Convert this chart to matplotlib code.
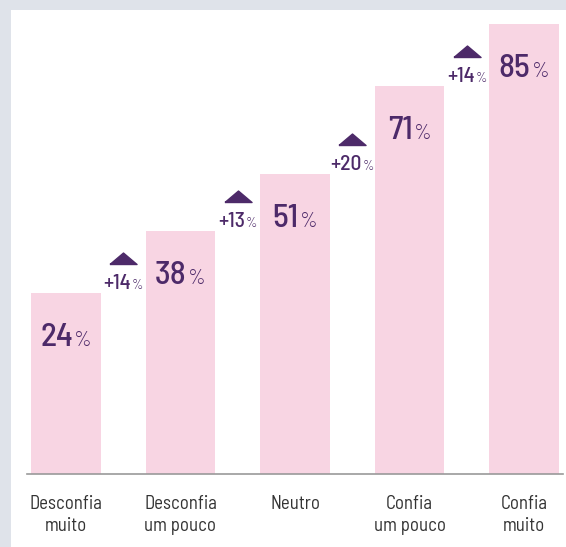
import numpy as np
import matplotlib.pyplot as plt
from matplotlib.patches import Rectangle
from matplotlib.transforms import ScaledTranslation

# survey answers: trust level vs share of respondents
categories = ["Desconfia\nmuito", "Desconfia\num pouco", "Neutro", "Confia\num pouco", "Confia\nmuito"]
values = [24, 38, 51, 71, 85]
deltas = [14, 13, 20, 14]

pink = "#f8d5e3"
purple = "#4d2a69"
font = ["Barlow Semi Condensed", "Roboto Condensed", "DejaVu Sans"]
plt.rcParams["font.family"] = font

base = -17.3
fig = plt.figure(figsize=(5.66, 5.47), dpi=100, facecolor="#dfe3ea")
W, H = 566, 547
fig.patches.append(Rectangle((11 / W, 0), 1, 1 - 10 / H, transform=fig.transFigure,
                             facecolor="white", edgecolor="none", zorder=0))

ax = fig.add_axes([27 / W, (H - 474) / H, (563 - 27) / W, (474 - 10) / H])
ax.set_zorder(2)
ax.set_facecolor("none")
x = np.arange(len(values))
ax.bar(x, [v - base for v in values], bottom=base, width=0.61, color=pink, zorder=1)
ax.set_xlim(-0.34, 4.34)
ax.set_ylim(base, 88.3)

for s in ["top", "right", "left"]:
    ax.spines[s].set_visible(False)
ax.spines["bottom"].set_color("#9a9a9a")
ax.spines["bottom"].set_linewidth(1.2)
ax.set_yticks([])
ax.set_xticks(x)
ax.set_xticklabels(categories, fontsize=13.5, color="#333333", linespacing=1.3)
ax.tick_params(axis="x", length=0, pad=15)

def px(dx, dy):
    return ax.transData + ScaledTranslation(dx / 100, dy / 100, fig.dpi_scale_trans)

# number + smaller percent sign, centred on x
fig.canvas.draw()
r = fig.canvas.get_renderer()

def pair(xc, yv, dy, num, size, psize):
    t1 = ax.text(xc, yv, num, fontsize=size, color=purple, fontweight=500,
                 ha="left", va="baseline", transform=px(0, dy), zorder=3)
    t2 = ax.text(xc, yv, "%", fontsize=psize, color=purple, fontweight=300,
                 ha="left", va="baseline", transform=px(0, dy), zorder=3)
    w1 = t1.get_window_extent(r).width
    w2 = t2.get_window_extent(r).width
    total = w1 + 1 + w2
    t1.set_transform(px(-total / 2, dy))
    t2.set_transform(px(-total / 2 + w1 + 1, dy))

for i, v in enumerate(values):
    pair(i, v, -53, str(v), 24, 15.5)

# increase markers between neighbouring bars
tri = [(-13, 0), (13, 0), (0, 11), (-13, 0)]
for i, d in enumerate(deltas):
    xm = i + 0.5
    ax.plot([xm], [values[i]], marker=tri, markersize=19.5, color=purple,
            linestyle="none", transform=px(0, 29), zorder=3)
    pair(xm, values[i], 4, "+" + str(d), 15.5, 10)

fig.savefig("out.png", dpi=100, facecolor=fig.get_facecolor())
